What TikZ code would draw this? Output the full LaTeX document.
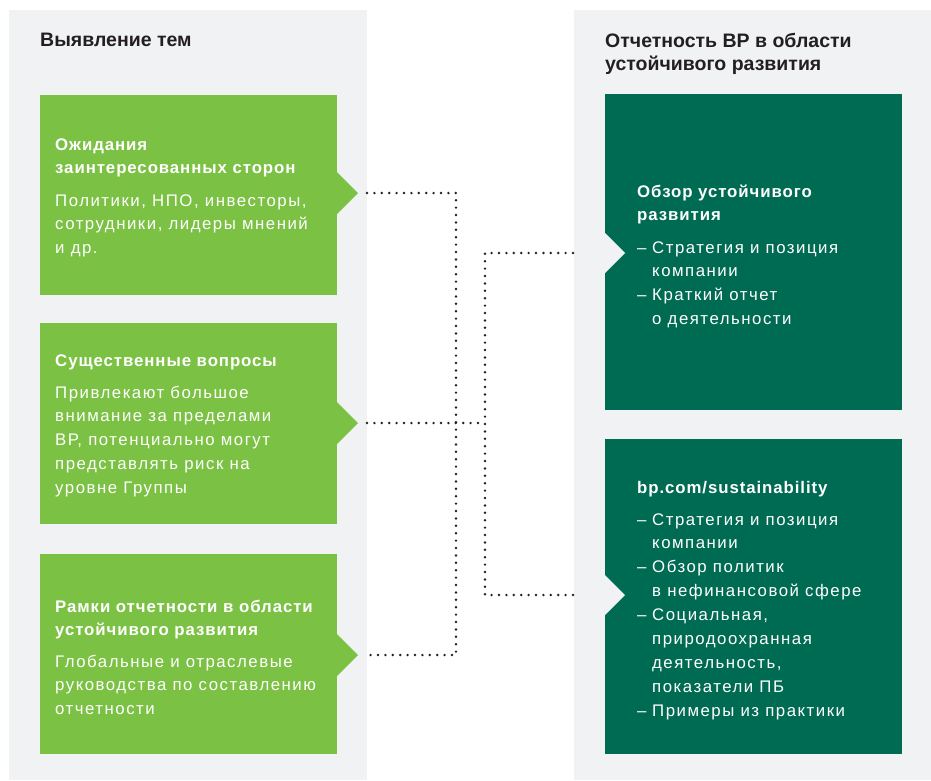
\documentclass[tikz,border=0pt]{standalone}
\usepackage{fontspec}
\setmainfont{Liberation Sans}
\newfontfamily\bodyface[LetterSpace=9]{Liberation Sans}
\newfontfamily\headface[LetterSpace=5.5]{Liberation Sans}

\definecolor{panelgray}{HTML}{F1F2F4}
\definecolor{leafgreen}{HTML}{7BC143}
\definecolor{deepgreen}{HTML}{006B53}
\definecolor{inkdark}{HTML}{231F20}

\tikzset{
  panel/.style={fill=panelgray, draw=none},
  leafbox/.style={rectangle, fill=leafgreen, draw=none, inner sep=0pt,
    minimum width=297pt, anchor=north west},
  deepbox/.style={rectangle, fill=deepgreen, draw=none, inner sep=0pt,
    minimum width=297pt, anchor=north west},
  coltitle/.style={inner sep=0pt, anchor=base west, text=inkdark,
    font=\bfseries\fontsize{19.5}{23.5}\selectfont},
  boxhead/.style={inner sep=0pt, anchor=base west, text=white,
    font=\headface\bfseries\fontsize{16.8}{23.4}\selectfont},
  boxbody/.style={inner sep=0pt, anchor=base west, text=white,
    font=\bodyface\fontsize{16.8}{23.9}\selectfont},
  dotline/.style={draw=inkdark, line width=2.7pt, line cap=round,
    dash pattern=on 0pt off 7.4pt},
}
% lines stacked under a first line that carries the baseline
\newcommand{\lines}[1]{\begin{tabular}[t]{@{}l@{}}#1\end{tabular}}
\newcommand{\itemdash}{\makebox[15pt][l]{–}}
\newcommand{\itemgap}{\hspace*{15pt}}

\begin{document}
\begin{tikzpicture}[x=1pt,y=-1pt]
  \useasboundingbox (0,0) rectangle (931,780);
  \fill[white] (0,0) rectangle (931,780);

  % background columns
  \fill[panel] (9,10) rectangle (367,780);
  \fill[panel] (574,10) rectangle (931,780);

  % column headings
  \node[coltitle] (lefttitle) at (40,46) {Выявление тем};
  \node[coltitle] (righttitle) at (605,47) {\lines{Отчетность BP в области\\устойчивого развития}};

  % left column: green boxes with a pointer on the right
  \node[leafbox, minimum height=200pt] (g1) at (40,95) {};
  \node[leafbox, minimum height=201pt] (g2) at (40,323) {};
  \node[leafbox, minimum height=200pt] (g3) at (40,554) {};
  \fill[leafgreen] (337,172) -- (358,193) -- (337,214) -- cycle;
  \fill[leafgreen] (337,402) -- (358,423) -- (337,444) -- cycle;
  \fill[leafgreen] (337,634) -- (358,655) -- (337,676) -- cycle;

  % right column: dark boxes with a notch on the left
  \node[deepbox, minimum height=316pt] (d1) at (605,94) {};
  \node[deepbox, minimum height=315pt] (d2) at (605,439) {};
  \fill[panelgray] (605,233) -- (625,253) -- (605,273) -- cycle;
  \fill[panelgray] (605,575) -- (625,595) -- (605,615) -- cycle;

  % texts of the green boxes
  \node[boxhead] (g1head) at (55,150) {\lines{Ожидания\\заинтересованных сторон}};
  \node[boxbody] (g1body) at (55,206) {\lines{Политики, НПО, инвесторы,\\сотрудники, лидеры мнений\\и др.}};
  \node[boxhead] (g2head) at (55,366) {Существенные вопросы};
  \node[boxbody] (g2body) at (55,398) {\lines{Привлекают большое\\внимание за пределами\\ВР, потенциально могут\\представлять риск на\\уровне Группы}};
  \node[boxhead] (g3head) at (55,612) {\lines{Рамки отчетности в области\\устойчивого развития}};
  \node[boxbody] (g3body) at (55,667) {\lines{Глобальные и отраслевые\\руководства по составлению\\отчетности}};

  % texts of the dark boxes
  \node[boxhead] (d1head) at (637,197) {\lines{Обзор устойчивого\\развития}};
  \node[boxbody] (d1body) at (637,253) {\lines{\itemdash Стратегия и позиция\\\itemgap компании\\\itemdash Краткий отчет\\\itemgap о деятельности}};
  \node[boxhead] (d2head) at (637,493) {bp.com/sustainability};
  \node[boxbody] (d2body) at (637,525) {\lines{\itemdash Стратегия и позиция\\\itemgap компании\\\itemdash Обзор политик\\\itemgap в нефинансовой сфере\\\itemdash Социальная,\\\itemgap природоохранная\\\itemgap деятельность,\\\itemgap показатели ПБ\\\itemdash Примеры из практики}};

  % connector ends and bends
  \coordinate (g1out) at (367,193);
  \coordinate (g2out) at (367,423);
  \coordinate (g3out) at (367,655);
  \coordinate (d1in) at (573,253);
  \coordinate (d2in) at (573,595);
  \coordinate (gatherTop) at (456,193);
  \coordinate (gatherBottom) at (456,655);
  \coordinate (hub) at (485,423);
  \coordinate (spreadTop) at (485,253);
  \coordinate (spreadBottom) at (485,595);

  % dotted connectors
  \draw[dotline] (g1out) -- (gatherTop) -- (gatherBottom) -- (g3out);
  \draw[dotline] (g2out) -- (hub);
  \draw[dotline] (d1in) -- (spreadTop) -- (spreadBottom) -- (d2in);
\end{tikzpicture}
\end{document}
